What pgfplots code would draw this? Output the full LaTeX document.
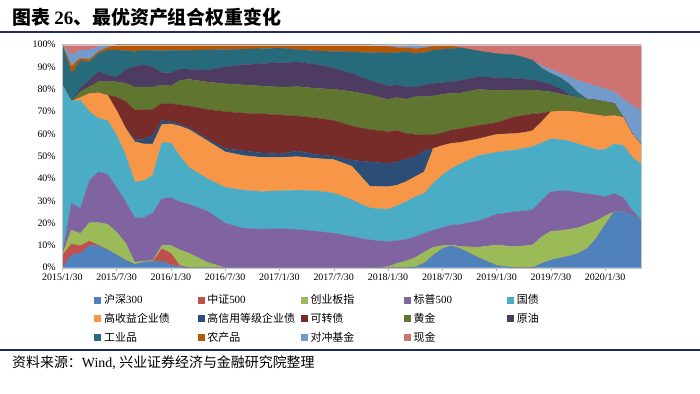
\documentclass[border=0pt]{standalone}
\usepackage{pgfplots}
\pgfplotsset{compat=1.18}
\usepackage{pgfplotstable}
\usepackage{fontspec}
\setmainfont{Liberation Serif}
\newfontfamily\cjk{Noto Sans CJK SC}
\definecolor{cA}{HTML}{4F81BD}
\definecolor{cB}{HTML}{C0504D}
\definecolor{cC}{HTML}{9BBB59}
\definecolor{cD}{HTML}{8064A2}
\definecolor{cE}{HTML}{4BACC6}
\definecolor{cF}{HTML}{F79646}
\definecolor{cG}{HTML}{2C4D75}
\definecolor{cH}{HTML}{772C2A}
\definecolor{cI}{HTML}{5F7530}
\definecolor{cJ}{HTML}{4D3B62}
\definecolor{cK}{HTML}{276A7C}
\definecolor{cL}{HTML}{B65708}
\definecolor{cM}{HTML}{729ACA}
\definecolor{cN}{HTML}{CD7372}
\definecolor{navy}{HTML}{1F2A6B}
\pgfplotstableread{
m hs zz cy sp gz gs gx kz hj yy gy nc dc xj
0 0 5.5 0.3 0.3 75.9 0 0 0 0 0 18 0 0 0
1 5.7 4.9 6.3 12.1 45.7 0 0 0 0 0 12.4 3.2 5.1 4.6
2 6.4 3.5 5.5 11.2 48.6 1.2 0 0 2.5 1.5 12.4 1.1 3.7 2.4
3 10 2 8.2 18.8 31 8.2 0 0 3 3 8.2 1 4.2 2.4
4 9.8 0.3 10.1 22.8 24 11.5 0 0 4.9 4.5 8.2 0.8 2.2 0.9
5 8 0 11.5 22.5 24 11.4 0 0 6 3 11.2 1.2 0.9 0.3
6 5.7 0 10.3 20 23.5 11 0 6 6.9 2.2 12 2.4 0 0
7 3.4 0 7.6 18.6 20.9 12 0.2 11.8 8.2 5.9 8.7 2.7 0 0
8 1.5 0 1 20 16.1 17.9 1 13.2 10.3 9.3 6.7 3 0 0
9 2.5 0 0.5 19.5 16.5 16.5 2 13.2 10.3 10 6.5 2.5 0 0
10 2.7 0 0.5 21.3 17 14 4 11.5 10 9 7.5 2.5 0 0
11 3 5.5 1.5 21 25 8.2 1.8 7.7 8.3 5.5 9.8 2.7 0 0
12 1.2 5.3 3.5 21.5 24.5 8.5 1 8 8 6 10 2.5 0 0
13 0.5 0.5 7 21.5 20.5 13.5 1 8.5 11 5 8.5 2.5 0 0
14 0 0 6.5 22 16.5 17 0.8 9.7 12 4.5 8.5 2.5 0 0
16 0 0 2.5 23 14.5 17 1 13 12.3 5.3 9.1 2.3 0 0
18 0 0 0 20 16 16 1.5 16.5 12.5 7.5 7.8 2.2 0 0
20 0 0 0 17.8 17 15.5 2.2 16.8 12.7 9 7 2 0 0
22 0 0 0 17.3 16.9 15.3 2 17.5 12.5 10 6.7 1.8 0 0
24 0 0 0 17.5 17 15 1.5 17.5 12.5 11 6.5 1.5 0 0
26 0 0 0 17.2 17.6 15 2.5 15.7 13.2 11 5.6 2.2 0 0
28 0 0 0 16.4 18.1 14.5 1.8 16.4 13.3 10.7 6 2.8 0 0
30 0 0 0 15.5 18 15 1.5 16 14 9.5 7.5 3 0 0
32 0 0 0 14 16.5 15 2.8 15.2 15.5 8 9.8 3.2 0 0
33 0 0 0 13.2 15.3 12.5 6.8 14.9 15.6 7.2 11.1 3.4 0 0
34 0 0 0 12.5 14.3 9.7 11 14.5 15.5 6.5 12.5 3.5 0 0
36 0 0 0.5 11.2 14.5 10.1 10.5 14.2 14.5 6 14.8 3 0.7 0
37 0 0 2 10.2 15.6 9.2 10.5 14 14.8 5.7 14.5 2.3 1.2 0
38 0 0 3 9.7 16.9 9 10 11.6 15.4 5.6 15.7 1.9 1.2 0
39 0.3 0 4.2 9.4 17.9 9 9 10 16.9 4.3 15.1 2.1 1.8 0
40 2 0 5 8.5 17.8 9.7 9.5 7.1 17.1 5.3 14.5 2.1 1.1 0.3
41 5.5 0 3.7 7.7 20.9 15.7 0 6 17.5 5.7 14.8 1.8 0 0.7
42 8.5 0 1.4 8.1 23.5 13.3 0 5.7 17.3 5.2 15 1.6 0 0.4
43 9.8 0 0.4 8.9 25.4 11.3 0 5.9 16.5 5.2 14.8 1.3 0 0.5
44 8.5 0 1 10 27 9.7 0 6.1 16 5.7 14.6 0.2 0 1.2
46 4.5 0 4.7 11.8 29.3 7.5 0 6 16.2 5.6 11.6 0 0 2.8
48 1 0 9.2 13.8 27.8 8 0 5.2 14.4 5.9 10.7 0 0 4
50 0 0 9.4 15.7 27.7 7.4 0 7.5 12 5.2 10.5 0 0 4.6
51 0 0 9.8 15.7 28 7.1 0 7.7 11.4 4.9 9.7 0 0 5.7
52 0 0 10.2 15.8 28.3 7.2 0 7.5 10.7 4.6 8.7 0 0 7
53 1.9 0 12 16.4 25.7 9.5 0 3.8 10 4.1 6 0 1.2 9.4
54 3.4 0 13 17.8 23.6 12.2 0 0 8.9 3.3 4.9 0 1.8 11.1
55 4.3 0 12.3 17.8 23.1 12.8 0 0 7.7 2.5 4.8 0 2 12.7
56 5.2 0 12 17.2 22.4 13.5 0 0 6.9 0.4 4.9 0 3.3 14.2
57 6.3 0 11.6 15.9 21.8 14.3 0 0 6.5 0 2.1 0 5.5 16
58 8.5 0 10.9 13.8 21.1 14.9 0 0 6.4 0 0 0 7.1 17.3
59 13 0 7.9 11.8 20.4 15.5 0 0 6.6 0 0 0 6.3 18.5
60 19.2 0 4 8.6 21.3 14.9 0 0 6.4 0 0 0 5.9 19.7
61 25 0 0.1 8.2 22.2 12.8 0 0 5.4 0 0 0 5.2 21.1
62 25.4 0 0 6.1 23.4 12.6 0 0 0 0 0 0 8.1 24.4
63 23.5 0 0 2.1 23.9 10.5 0 0 0 0 0 0 13 27
64 21.4 0 0 0 25.1 8.5 0 0 0 0 0 0 15.4 29.6
}\data
\newcommand{\lgentry}[1]{\makebox[95bp][l]{\hspace{2.5bp}#1}}
\begin{document}
\begin{tikzpicture}[x=1bp,y=1bp]
\useasboundingbox (0,0) rectangle (700,-393);
\node[anchor=west,inner sep=0] at (12,-17) {\fontsize{19}{19}\selectfont\bfseries\cjk 图表 \rmfamily 26\cjk 、最优资产组合权重变化};
\draw[navy, line width=2bp] (0,-32) -- (700,-32);
\draw[navy, line width=1.6bp] (0,-350) -- (700,-350);
\node[anchor=west,inner sep=0] at (12,-363) {\fontsize{14}{14}\selectfont\cjk 资料来源：\rmfamily Wind, \cjk 兴业证券经济与金融研究院整理};
\begin{axis}[
  at={(62.3bp,-267.7bp)}, anchor=south west,
  scale only axis, width=579bp, height=223bp,
  xmin=0, xmax=64, ymin=0, ymax=100,
  stack plots=y, axis on top,
  axis line style={draw=gray!45},
  xtick={0,6,...,60},
  xticklabels={2015/1/30,2015/7/30,2016/1/30,2016/7/30,2017/1/30,2017/7/30,2018/1/30,2018/7/30,2019/1/30,2019/7/30,2020/1/30},
  ytick={0,10,...,100},
  yticklabel={\pgfmathprintnumber{\tick}\%},
  /pgf/number format/assume math mode=true,
  tick label style={font=\fontsize{10}{10}\selectfont},
  tick pos=left, tick align=outside, major tick length=3bp,
  xtick style={draw=gray!60},
  ytick style={draw=none},
  legend columns=5,
  legend cell align=left,
  legend style={draw=none, fill=none, at={(0.050,-0.105)}, anchor=north west,
    font=\fontsize{11}{11}\selectfont\cjk, nodes={inner sep=1bp}, row sep=6bp,
    /tikz/every even column/.append style={column sep=0bp}},
  legend image code/.code={\fill[#1] (0bp,-3bp) rectangle (6bp,3bp);},
]
\addplot[fill=cA, draw=cA, line width=0.2pt] table[x=m,y=hs]{\data} \closedcycle;
\addplot[fill=cB, draw=cB, line width=0.2pt] table[x=m,y=zz]{\data} \closedcycle;
\addplot[fill=cC, draw=cC, line width=0.2pt] table[x=m,y=cy]{\data} \closedcycle;
\addplot[fill=cD, draw=cD, line width=0.2pt] table[x=m,y=sp]{\data} \closedcycle;
\addplot[fill=cE, draw=cE, line width=0.2pt] table[x=m,y=gz]{\data} \closedcycle;
\addplot[fill=cF, draw=cF, line width=0.2pt] table[x=m,y=gs]{\data} \closedcycle;
\addplot[fill=cG, draw=cG, line width=0.2pt] table[x=m,y=gx]{\data} \closedcycle;
\addplot[fill=cH, draw=cH, line width=0.2pt] table[x=m,y=kz]{\data} \closedcycle;
\addplot[fill=cI, draw=cI, line width=0.2pt] table[x=m,y=hj]{\data} \closedcycle;
\addplot[fill=cJ, draw=cJ, line width=0.2pt] table[x=m,y=yy]{\data} \closedcycle;
\addplot[fill=cK, draw=cK, line width=0.2pt] table[x=m,y=gy]{\data} \closedcycle;
\addplot[fill=cL, draw=cL, line width=0.2pt] table[x=m,y=nc]{\data} \closedcycle;
\addplot[fill=cM, draw=cM, line width=0.2pt] table[x=m,y=dc]{\data} \closedcycle;
\addplot[fill=cN, draw=cN, line width=0.2pt] table[x=m,y=xj]{\data} \closedcycle;
\addlegendentry{\lgentry{沪深\rmfamily 300}}
\addlegendentry{\lgentry{中证\rmfamily 500}}
\addlegendentry{\lgentry{创业板指}}
\addlegendentry{\lgentry{标普\rmfamily 500}}
\addlegendentry{\lgentry{国债}}
\addlegendentry{\lgentry{高收益企业债}}
\addlegendentry{\lgentry{高信用等级企业债}}
\addlegendentry{\lgentry{可转债}}
\addlegendentry{\lgentry{黄金}}
\addlegendentry{\lgentry{原油}}
\addlegendentry{\lgentry{工业品}}
\addlegendentry{\lgentry{农产品}}
\addlegendentry{\lgentry{对冲基金}}
\addlegendentry{\lgentry{现金}}
\end{axis}
\end{tikzpicture}
\end{document}
